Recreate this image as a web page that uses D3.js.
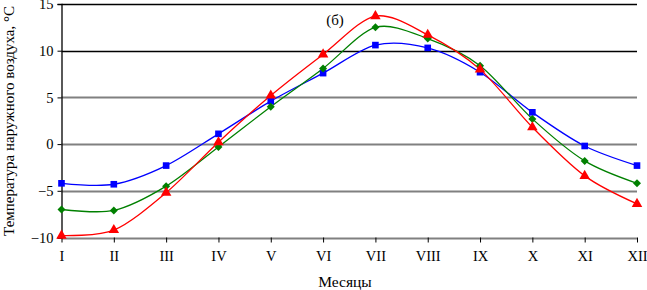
<!DOCTYPE html>
<html><head><meta charset="utf-8">
<script src="https://cdn.jsdelivr.net/npm/d3@7"></script>
<style>body{margin:0;background:#fff}svg{display:block}text{font-family:"Liberation Serif","Times New Roman",serif;fill:#000}</style>
</head><body>
<svg id="c" width="647" height="290"></svg>
<script>
const months = ["I","II","III","IV","V","VI","VII","VIII","IX","X","XI","XII"];
const yTicks = [-10,-5,0,5,10,15];
const blueVals  = [-4.2,-4.3,-2.3,1.1,4.6,7.6,10.6,10.3,7.7,3.4,-0.2,-2.3];
const greenVals = [-7.0,-7.1,-4.5,-0.3,4.0,8.1,12.5,11.3,8.4,2.7,-1.8,-4.2];
const redVals   = [-9.8,-9.2,-5.2,0.2,5.2,9.6,13.7,11.7,8.0,1.8,-3.4,-6.4];

const svg = d3.select("#c");
const L = 61.5, R = 637, T = 4, B = 237.5;
const x = d3.scalePoint().domain(months).range([L, R]);
const y = d3.scaleLinear().domain([-10,15]).range([B, T]);

yTicks.forEach(v=>{
  const black = v >= 10;
  svg.append("line").attr("x1",L).attr("x2",R).attr("y1",Math.round(y(v))+0.5).attr("y2",Math.round(y(v))+0.5)
    .attr("stroke", black ? "#000" : "#808080").attr("stroke-width", black ? 1.3 : 2.2);
});

const ya = svg.append("g").attr("transform",`translate(${L},0)`)
  .call(d3.axisLeft(y).tickValues(yTicks).tickSize(4).tickPadding(4).tickFormat(d3.format("d")));
ya.select(".domain").attr("stroke","#000").attr("stroke-width",1.3);
ya.selectAll(".tick line").attr("stroke","#000");
ya.selectAll("text").attr("font-size",14.5).style("font-family","Liberation Serif");

const xa = svg.append("g").attr("transform",`translate(0,${B})`)
  .call(d3.axisBottom(x).tickSize(5).tickPadding(8));
xa.select(".domain").remove();
xa.selectAll(".tick line").attr("stroke","#000");
xa.selectAll("text").attr("font-size",14.5).style("font-family","Liberation Serif");

svg.append("text").attr("x",345).attr("y",287).attr("text-anchor","middle").attr("font-size",15.5).text("Месяцы");
svg.append("text").attr("transform","translate(14,121) rotate(-90)").attr("text-anchor","middle").attr("font-size",15)
  .text("Температура наружного воздуха, °С");
svg.append("text").attr("x",335).attr("y",25).attr("text-anchor","middle").attr("font-size",15).text("(б)");

const line = d3.line().x((d,i)=>x(months[i])).y(d=>y(d)).curve(d3.curveCardinal.tension(0.1));
const series = [
  {vals: blueVals, color:"#0000ff", sym: d3.symbolSquare, size: 44, rot: 0},
  {vals: greenVals, color:"#008000", sym: d3.symbolSquare, size: 32, rot: 45},
  {vals: redVals, color:"#ff0000", sym: d3.symbolTriangle, size: 48, rot: 0}
];
series.forEach(s=>{
  svg.append("path").attr("d", line(s.vals)).attr("fill","none").attr("stroke",s.color).attr("stroke-width",1.3);
});
series.forEach(s=>{
  svg.append("g").selectAll("path").data(s.vals).join("path")
    .attr("transform",(d,i)=>`translate(${x(months[i])},${y(d)}) rotate(${s.rot})`)
    .attr("d", d3.symbol().type(s.sym).size(s.size)).attr("fill",s.color);
});
</script>
</body></html>
